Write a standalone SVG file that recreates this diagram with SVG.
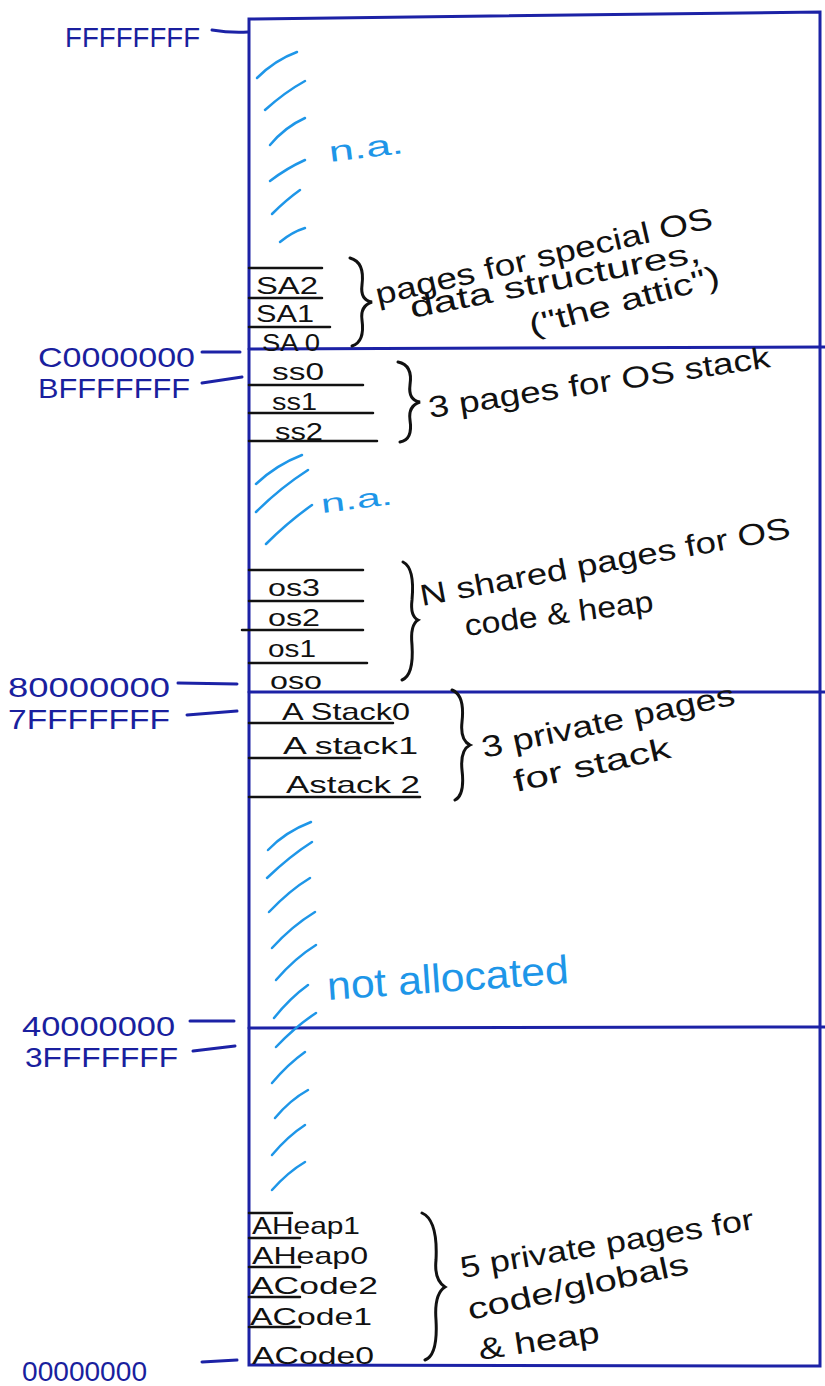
<svg xmlns="http://www.w3.org/2000/svg" width="825" height="1386" viewBox="0 0 825 1386">
<style>
.box{fill:none;stroke:#1c22a6;stroke-width:3;stroke-linecap:round}
.tick{stroke:#1c22a6;stroke-width:3;stroke-linecap:round;fill:none}
.addr{font-family:"Liberation Sans",Arial,sans-serif;font-size:28px;fill:#1a1f9e}
.pg{stroke:#111;stroke-width:2.5;stroke-linecap:round;fill:none}
.lbl{font-family:"Liberation Sans",Arial,sans-serif;font-size:24px;fill:#111}
.note{font-family:"Liberation Sans",Arial,sans-serif;font-size:30px;fill:#111}
.brace{stroke:#111;stroke-width:3;fill:none;stroke-linecap:round}
.hatch{stroke:#1e96e8;stroke-width:2.5;fill:none;stroke-linecap:round}
.na{font-family:"Liberation Sans",Arial,sans-serif;fill:#1e96e8}
</style>
<rect width="825" height="1386" fill="#fff"/>
<g id="memory-box">
<path class="box" d="M249,19 L820,12 L820,1366 L249,1365 Z"/>
<path class="box" d="M249,349 L825,347"/>
<path class="box" d="M249,692 L825,692"/>
<path class="box" d="M249,1028 L825,1027"/>
</g>
<g id="addresses">
<text class="addr" x="65" y="47" textLength="135" lengthAdjust="spacingAndGlyphs">FFFFFFFF</text>
<path class="tick" d="M212,30 Q230,33 248,32"/>
<text class="addr" x="38" y="367" textLength="157" lengthAdjust="spacingAndGlyphs">C0000000</text>
<path class="tick" d="M202,352 L240,352"/>
<text class="addr" x="38" y="398" textLength="152" lengthAdjust="spacingAndGlyphs">BFFFFFFF</text>
<path class="tick" d="M202,383 L242,377"/>
<text class="addr" x="8" y="697" textLength="162" lengthAdjust="spacingAndGlyphs">80000000</text>
<path class="tick" d="M178,683 L237,684"/>
<text class="addr" x="8" y="729" textLength="162" lengthAdjust="spacingAndGlyphs">7FFFFFFF</text>
<path class="tick" d="M187,715 L237,711"/>
<text class="addr" x="22" y="1036" textLength="153" lengthAdjust="spacingAndGlyphs">40000000</text>
<path class="tick" d="M190,1021 L234,1021"/>
<text class="addr" x="25" y="1067" textLength="153" lengthAdjust="spacingAndGlyphs">3FFFFFFF</text>
<path class="tick" d="M193,1051 L235,1046"/>
<text class="addr" x="22" y="1381" textLength="125" lengthAdjust="spacingAndGlyphs">00000000</text>
<path class="tick" d="M202,1362 L237,1360"/>
</g>
<g id="hatching">
<path class="hatch" d="M257,78 Q275,60 297,52"/>
<path class="hatch" d="M265,110 Q285,92 305,81"/>
<path class="hatch" d="M270,145 Q285,127 305,118"/>
<path class="hatch" d="M270,181 Q287,168 305,160"/>
<path class="hatch" d="M272,214 Q286,200 300,190"/>
<path class="hatch" d="M280,242 Q292,232 305,228"/>
<path class="hatch" d="M256,484 Q276,465 302,455"/>
<path class="hatch" d="M256,512 Q280,488 308,470"/>
<path class="hatch" d="M266,544 Q288,522 312,505"/>
<path class="hatch" d="M268,850 Q285,832 311,822"/>
<path class="hatch" d="M267,878 Q290,856 312,842"/>
<path class="hatch" d="M269,912 Q290,890 310,878"/>
<path class="hatch" d="M272,948 Q292,926 315,912"/>
<path class="hatch" d="M276,980 Q295,958 316,945"/>
<path class="hatch" d="M274,1018 Q290,998 308,985"/>
<path class="hatch" d="M276,1047 Q296,1026 316,1013"/>
<path class="hatch" d="M272,1083 Q288,1064 305,1052"/>
<path class="hatch" d="M275,1118 Q290,1100 308,1090"/>
<path class="hatch" d="M272,1155 Q288,1136 305,1125"/>
<path class="hatch" d="M272,1190 Q288,1172 305,1162"/>
<text class="na" font-size="29" x="330" y="162" textLength="75" lengthAdjust="spacingAndGlyphs" transform="rotate(-7 330 162)">n.a.</text>
<text class="na" font-size="26" x="322" y="513" textLength="72" lengthAdjust="spacingAndGlyphs" transform="rotate(-7 322 513)">n.a.</text>
<text class="na" font-size="40" x="328" y="1000" textLength="242" lengthAdjust="spacingAndGlyphs" transform="rotate(-4 328 1000)">not allocated</text>
</g>
<g id="attic">
<path class="pg" d="M249,268 L322,268 M249,298 L322,298 M249,327 L330,327"/>
<text class="lbl" x="256" y="294" textLength="62" lengthAdjust="spacingAndGlyphs">SA2</text>
<text class="lbl" x="256" y="322" textLength="58" lengthAdjust="spacingAndGlyphs">SA1</text>
<text class="lbl" x="262" y="351" textLength="58" lengthAdjust="spacingAndGlyphs">SA 0</text>
<path class="brace" d="M350,258 Q365,262 362,285 Q360,300 372,302 Q360,306 362,320 Q365,342 352,346"/>
<text class="note" x="378" y="305" textLength="345" lengthAdjust="spacingAndGlyphs" transform="rotate(-13 378 305)">pages for special OS</text>
<text class="note" x="412" y="318" textLength="295" lengthAdjust="spacingAndGlyphs" transform="rotate(-11 412 318)">data structures,</text>
<text class="note" x="532" y="336" textLength="196" lengthAdjust="spacingAndGlyphs" transform="rotate(-15 532 336)">("the attic")</text>
</g>
<g id="os-stack">
<path class="pg" d="M249,385 L363,385 M249,413 L373,413 M249,441 L377,441"/>
<text class="lbl" x="272" y="380" textLength="52" lengthAdjust="spacingAndGlyphs">ss0</text>
<text class="lbl" x="272" y="410" textLength="45" lengthAdjust="spacingAndGlyphs">ss1</text>
<text class="lbl" x="275" y="440" textLength="48" lengthAdjust="spacingAndGlyphs">ss2</text>
<path class="brace" d="M398,362 Q413,365 410,385 Q408,400 420,402 Q408,406 410,420 Q413,440 400,442"/>
<text class="note" x="430" y="418" textLength="345" lengthAdjust="spacingAndGlyphs" transform="rotate(-8.5 430 418)">3 pages for OS stack</text>
</g>
<g id="os-shared">
<path class="pg" d="M249,570 L363,570 M249,601 L363,601 M242,630 L363,630 M249,663 L367,663"/>
<text class="lbl" x="268" y="596" textLength="52" lengthAdjust="spacingAndGlyphs">os3</text>
<text class="lbl" x="268" y="626" textLength="52" lengthAdjust="spacingAndGlyphs">os2</text>
<text class="lbl" x="268" y="657" textLength="48" lengthAdjust="spacingAndGlyphs">os1</text>
<text class="lbl" x="270" y="689" textLength="52" lengthAdjust="spacingAndGlyphs">oso</text>
<path class="brace" d="M403,562 Q415,568 412,600 Q410,616 418,620 Q410,625 412,645 Q414,675 402,680"/>
<text class="note" x="422" y="606" textLength="376" lengthAdjust="spacingAndGlyphs" transform="rotate(-10.5 422 606)">N shared pages for OS</text>
<text class="note" x="466" y="636" textLength="190" lengthAdjust="spacingAndGlyphs" transform="rotate(-7.5 466 636)">code &amp; heap</text>
</g>
<g id="app-stack">
<path class="pg" d="M249,723 L393,723 M249,758 L360,758 M249,797 L420,797"/>
<text class="lbl" x="282" y="720" textLength="128" lengthAdjust="spacingAndGlyphs">A Stack0</text>
<text class="lbl" x="283" y="754" textLength="135" lengthAdjust="spacingAndGlyphs">A stack1</text>
<text class="lbl" x="286" y="793" textLength="134" lengthAdjust="spacingAndGlyphs">Astack 2</text>
<path class="brace" d="M452,690 Q465,695 462,722 Q460,740 470,745 Q460,750 462,770 Q465,795 455,800"/>
<text class="note" x="484" y="758" textLength="258" lengthAdjust="spacingAndGlyphs" transform="rotate(-12 484 758)">3 private pages</text>
<text class="note" x="516" y="792" textLength="160" lengthAdjust="spacingAndGlyphs" transform="rotate(-12.5 516 792)">for stack</text>
</g>
<g id="app-code-heap">
<path class="pg" d="M249,1213 L292,1213 M249,1238 L300,1238 M249,1267 L300,1267 M249,1297 L300,1297 M249,1327 L300,1327"/>
<text class="lbl" x="252" y="1234" textLength="108" lengthAdjust="spacingAndGlyphs">AHeap1</text>
<text class="lbl" x="252" y="1264" textLength="116" lengthAdjust="spacingAndGlyphs">AHeap0</text>
<text class="lbl" x="250" y="1294" textLength="128" lengthAdjust="spacingAndGlyphs">ACode2</text>
<text class="lbl" x="250" y="1325" textLength="122" lengthAdjust="spacingAndGlyphs">ACode1</text>
<text class="lbl" x="252" y="1364" textLength="122" lengthAdjust="spacingAndGlyphs">ACode0</text>
<path class="brace" d="M422,1213 Q438,1220 436,1260 Q434,1280 445,1287 Q434,1294 436,1320 Q438,1355 425,1360"/>
<text class="note" x="462" y="1278" textLength="297" lengthAdjust="spacingAndGlyphs" transform="rotate(-9.5 462 1278)">5 private pages for</text>
<text class="note" x="470" y="1320" textLength="225" lengthAdjust="spacingAndGlyphs" transform="rotate(-12 470 1320)">code/globals</text>
<text class="note" x="480" y="1360" textLength="122" lengthAdjust="spacingAndGlyphs" transform="rotate(-8.5 480 1360)">&amp; heap</text>
</g>
</svg>
